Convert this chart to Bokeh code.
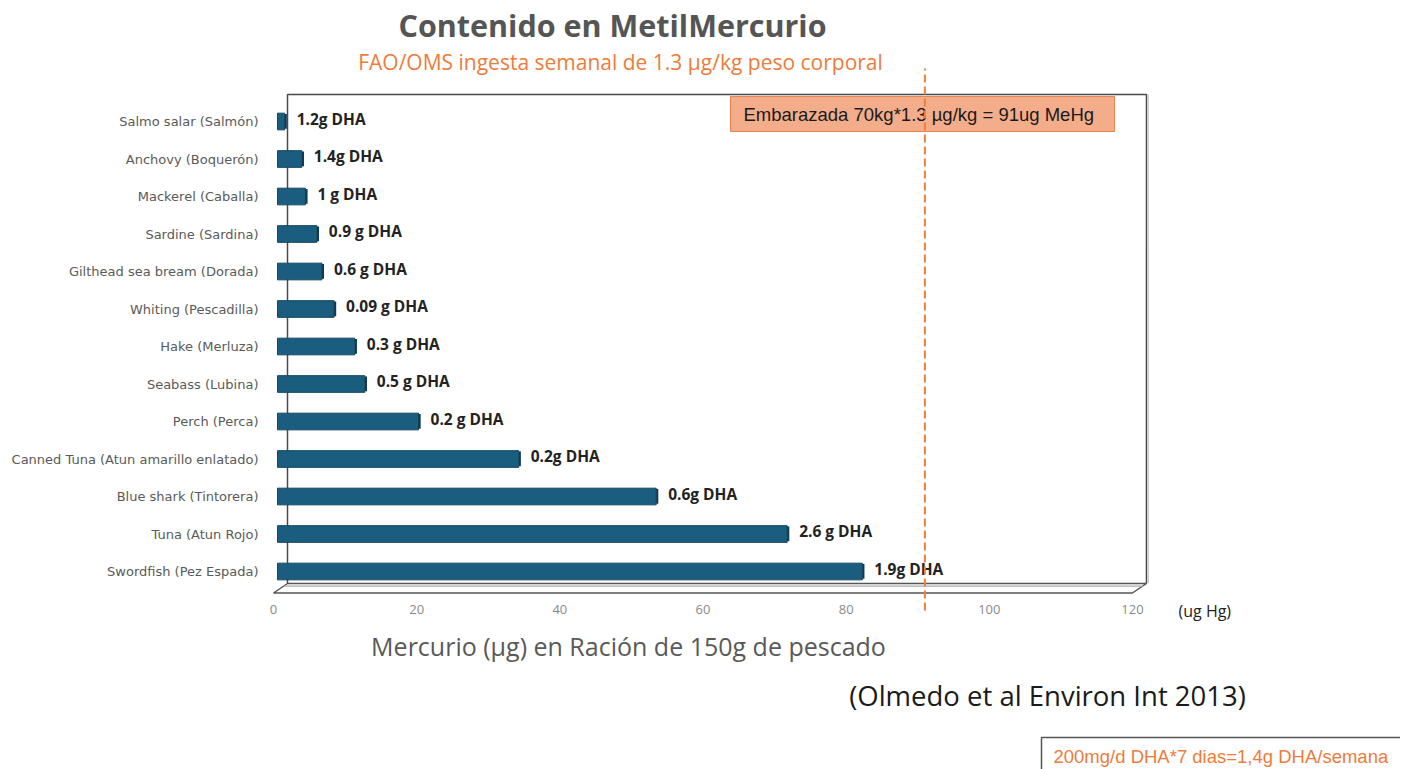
from bokeh.plotting import figure
from bokeh.models import Range1d, FixedTicker
from bokeh.core.properties import value
from bokeh.embed import file_html
from bokeh.resources import INLINE

# ---------------- data ----------------
species = [
    "Salmo salar (Salmón)",
    "Anchovy (Boquerón)",
    "Mackerel (Caballa)",
    "Sardine (Sardina)",
    "Gilthead sea bream (Dorada)",
    "Whiting (Pescadilla)",
    "Hake (Merluza)",
    "Seabass (Lubina)",
    "Perch (Perca)",
    "Canned Tuna (Atun amarillo enlatado)",
    "Blue shark (Tintorera)",
    "Tuna (Atun Rojo)",
    "Swordfish (Pez Espada)",
]
mercury_ug = [1.0, 3.4, 3.9, 5.5, 6.2, 7.9, 10.8, 12.2, 19.7, 33.7, 52.9, 71.2, 81.7]
dha_labels = [
    "1.2g DHA", "1.4g DHA", "1 g DHA", "0.9 g DHA", "0.6 g DHA", "0.09 g DHA",
    "0.3 g DHA", "0.5 g DHA", "0.2 g DHA", "0.2g DHA", "0.6g DHA", "2.6 g DHA", "1.9g DHA",
]
x_ticks = [0, 20, 40, 60, 80, 100, 120]
body_weight_kg = 70
weekly_intake_ug_per_kg = 1.3
threshold_ug = body_weight_kg * weekly_intake_ug_per_kg  # 91

# ---------------- layout geometry (page pixels) ----------------
W, H = 1400, 769
LEFT = 266
PXU = 7.158   # px per unit on x
X0 = 273      # page px of value 0
ROW = 37.5    # px per category row
Y0 = 571      # page px of the bottom row centre


def vx(px):
    return (px - X0) / PXU


def vy(py):
    return (Y0 - py) / ROW


n = len(species)
pos = [n - 1 - i for i in range(n)]

p = figure(
    width=W, height=H,
    x_range=Range1d(vx(LEFT), vx(W)),
    y_range=Range1d(vy(H), vy(0)),
    output_backend="svg", toolbar_location=None,
    min_border_left=LEFT, min_border_right=0, min_border_top=0, min_border_bottom=0,
)
p.outline_line_color = None
p.grid.visible = False
p.background_fill_color = "white"
p.border_fill_color = "white"

# axes
p.yaxis.ticker = FixedTicker(ticks=pos)
p.yaxis.major_label_overrides = {k: s for k, s in zip(pos, species)}
p.xaxis.ticker = FixedTicker(ticks=x_ticks)
p.xaxis.fixed_location = vy(600)
for ax in (p.xaxis[0], p.yaxis[0]):
    ax.axis_line_color = None
    ax.major_tick_line_color = None
    ax.minor_tick_line_color = None
    ax.major_tick_out = 0
    ax.major_tick_in = 0
    ax.minor_tick_out = 0
    ax.minor_tick_in = 0
p.yaxis.major_label_text_font = "DejaVu Sans"
p.yaxis.major_label_text_font_size = "13px"
p.yaxis.major_label_text_color = "#5a5a5a"
p.yaxis.major_label_standoff = 8
p.xaxis.major_label_text_font = "Open Sans"
p.xaxis.major_label_text_font_size = "13px"
p.xaxis.major_label_text_color = "#8a8a8a"
p.xaxis.major_label_standoff = 4

# 3D wall and floor
DEPTH_X = (287 - X0) / PXU
FLOOR_FRONT = vy(592.5)
FLOOR_BACK = vy(583)
WALL_TOP = vy(94)
xmax = x_ticks[-1]
p.patch([0, xmax, xmax + DEPTH_X, DEPTH_X], [FLOOR_FRONT, FLOOR_FRONT, FLOOR_BACK, FLOOR_BACK],
        fill_color="white", line_color="#555555", line_width=1.5)
p.line([DEPTH_X * 0.75, xmax + DEPTH_X * 0.75], [FLOOR_BACK - 0.07, FLOOR_BACK - 0.07],
       line_color="#aaaaaa", line_width=1.2)
p.line([DEPTH_X, DEPTH_X, xmax + DEPTH_X, xmax + DEPTH_X],
       [FLOOR_BACK, WALL_TOP, WALL_TOP, FLOOR_BACK], line_color="#4a4a4a", line_width=1.5)
p.line([xmax + DEPTH_X + 0.25] * 2, [FLOOR_BACK, WALL_TOP], line_color="#bbbbbb", line_width=1)

# bars
BAR_SHIFT = (277 - X0) / PXU
BH = 0.445
rights = [v + BAR_SHIFT for v in mercury_ug]
p.quad(left=BAR_SHIFT, right=rights,
       bottom=[k - BH / 2 for k in pos], top=[k + BH / 2 for k in pos],
       fill_color="#1B5D7F", line_color="#124862", line_width=1)
p.quad(left=rights, right=[r + 0.3 for r in rights],
       bottom=[k - BH / 2 + 0.03 for k in pos], top=[k + BH / 2 - 0.02 for k in pos],
       fill_color="#0E3A52", line_color=None)

# DHA labels
p.text(x=rights, y=pos, text=dha_labels, x_offset=12, y_offset=-3,
       text_font=value("Open Sans"), text_font_style="bold", text_font_size="15.5px",
       text_color="#222222", text_align="left", text_baseline="middle")

# annotation box (pregnant woman)
p.quad(left=[vx(730)], right=[vx(1114)], top=[vy(96)], bottom=[vy(131)],
       fill_color="#F4AD8B", line_color="#E8844F", line_width=1)
p.text(x=[vx(743)], y=[vy(113.5)],
       text=[f"Embarazada {body_weight_kg}kg*{weekly_intake_ug_per_kg} µg/kg = {threshold_ug:.0f}ug MeHg"],
       text_font=value("Liberation Sans"), text_font_size="18.5px", text_color="#1a1a1a",
       text_align="left", text_baseline="middle")

# titles
p.text(x=[vx(612)], y=[vy(24)], text=["Contenido en MetilMercurio"],
       text_font=value("Open Sans"), text_font_style="bold", text_font_size="30.5px",
       text_color="#555555", text_align="center", text_baseline="middle")
p.text(x=[vx(620)], y=[vy(61)], text=["FAO/OMS ingesta semanal de 1.3 µg/kg peso corporal"],
       text_font=value("Open Sans"), text_font_size="21px",
       text_color="#EE7B3A", text_align="center", text_baseline="middle")

# threshold line
p.segment(x0=[threshold_ug], x1=[threshold_ug], y0=[vy(610)], y1=[vy(68)],
          line_color="#F07F3C", line_width=2, line_dash="8 4")

# texts below the plot
p.text(x=[vx(1178)], y=[vy(610)], text=["(ug Hg)"],
       text_font=value("Open Sans"), text_font_size="16px", text_color="#222222",
       text_align="left", text_baseline="middle")
p.text(x=[vx(628)], y=[vy(645)], text=["Mercurio (µg) en Ración de 150g de pescado"],
       text_font=value("Open Sans"), text_font_size="25px", text_color="#595959",
       text_align="center", text_baseline="middle")
p.text(x=[vx(1047)], y=[vy(695)], text=["(Olmedo et al Environ Int 2013)"],
       text_font=value("Open Sans"), text_font_size="27.5px", text_color="#1a1a1a",
       text_align="center", text_baseline="middle")
p.quad(left=[vx(1041)], right=[vx(1440)], top=[vy(737)], bottom=[vy(790)],
       fill_color="white", line_color="#555555", line_width=1.5)
p.text(x=[vx(1053)], y=[vy(756)], text=["200mg/d DHA*7 dias=1,4g DHA/semana"],
       text_font=value("Liberation Sans"), text_font_size="18.5px", text_color="#EE7B3A",
       text_align="left", text_baseline="middle")

open("out.html", "w").write(file_html(p, INLINE))
